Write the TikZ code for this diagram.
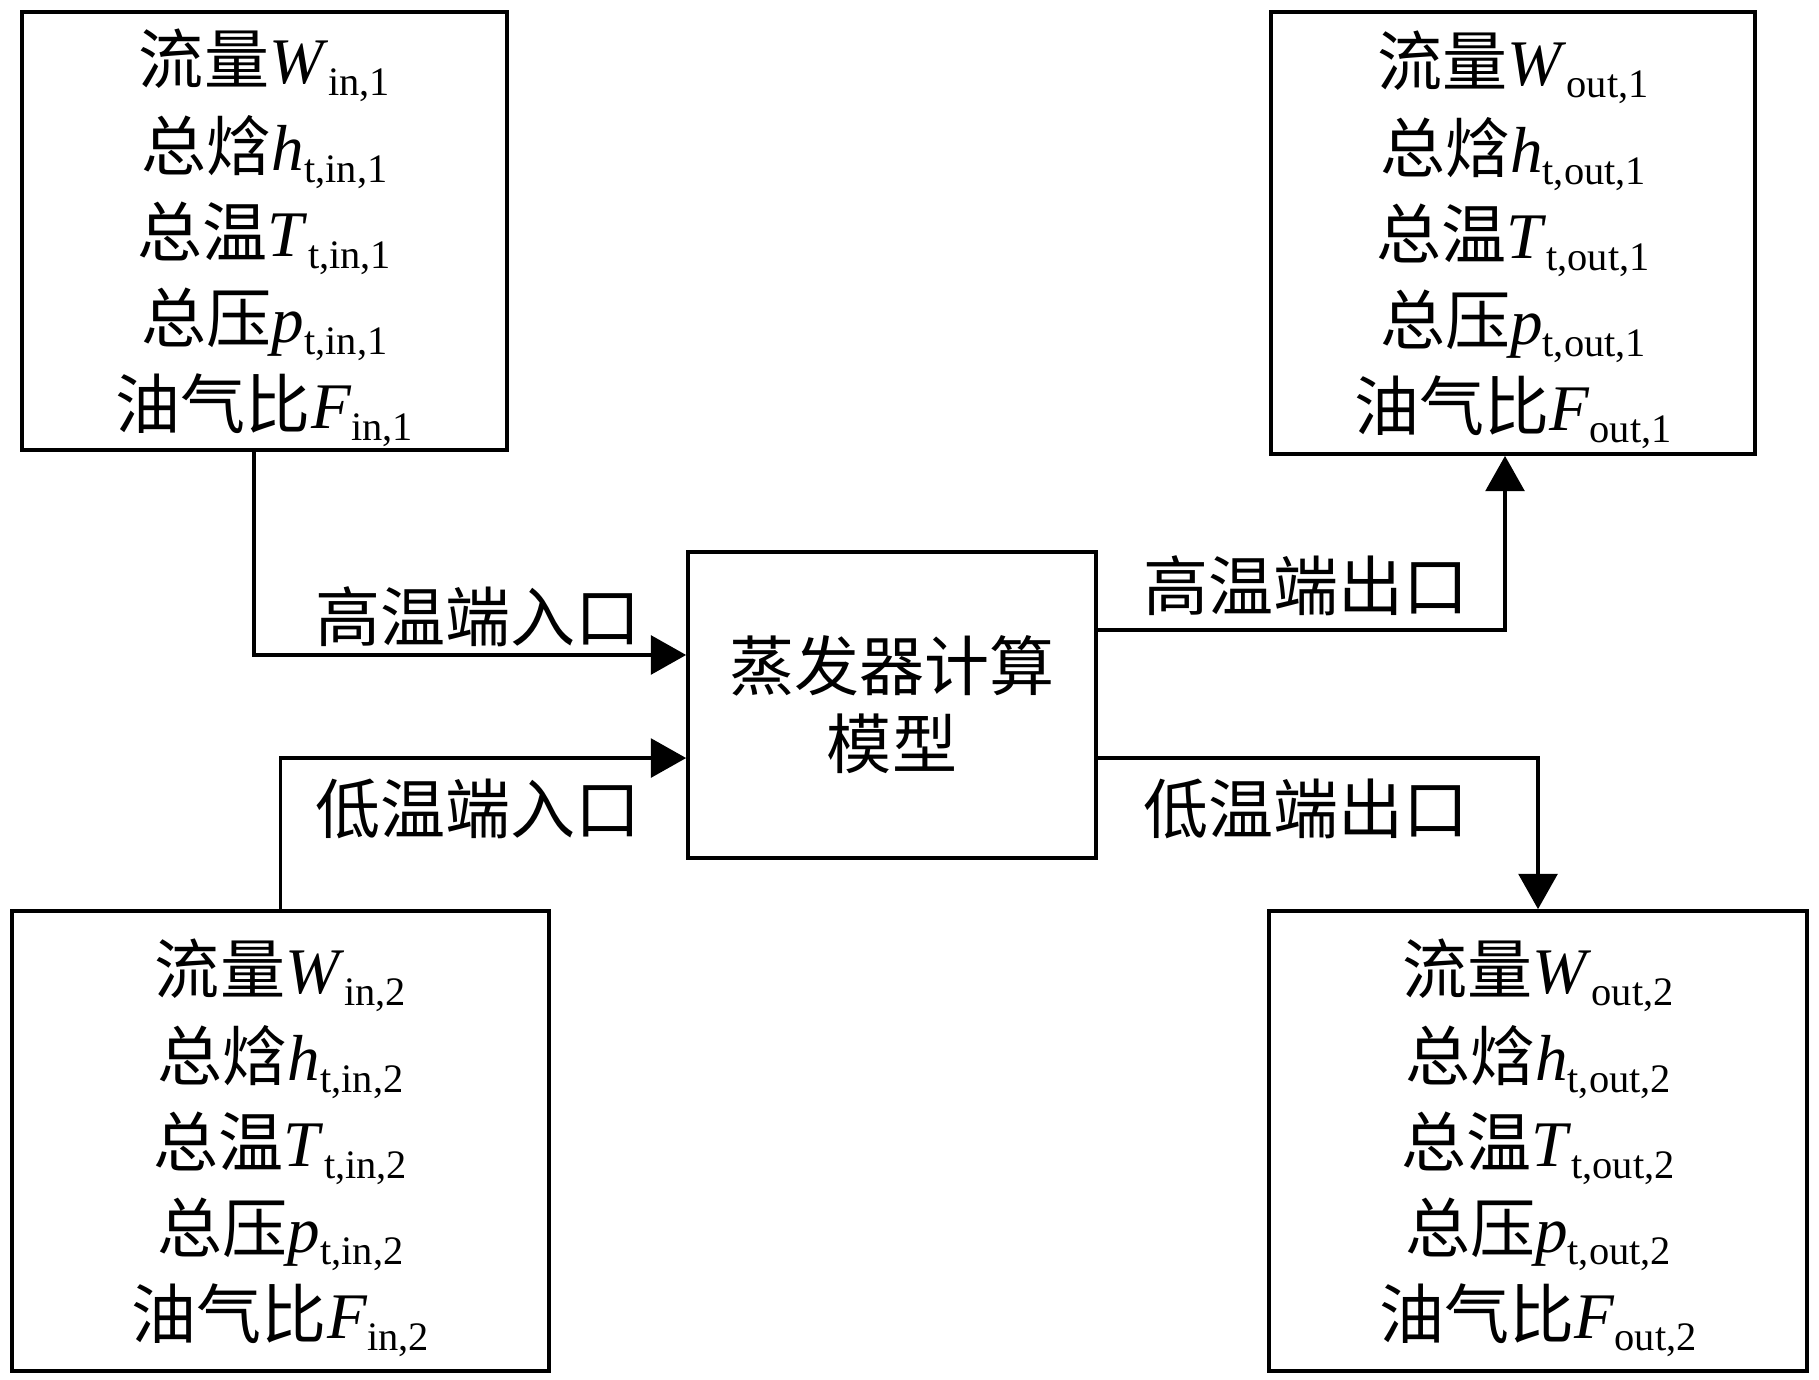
\documentclass[tikz,border=0pt]{standalone}
\usepackage{fontspec}
\setmainfont{Liberation Serif}
\newfontfamily\cjk{Noto Sans CJK SC}
\usetikzlibrary{
positioning,
arrows.meta,
}
\tikzset{
every node/.style={align=center, font=\fontsize{18.5}{24.5}\selectfont},
databox/.style={rectangle, draw, line width=1pt, inner sep=0pt},
model/.style={rectangle, draw, line width=1pt, minimum width=4.08cm, minimum height=3.06cm,
  font=\fontsize{18.5}{22.2}\selectfont},
portname/.style={inner sep=0pt},
flow/.style={->, line width=1pt},
>={Triangle[length=10pt,width=11pt]},
}
\newcommand{\zh}[1]{{\cjk #1}}
\newcommand{\vsub}[1]{\raisebox{-3.4pt}{\fontsize{11.5}{11.5}\selectfont #1}}
\newcommand{\statelist}[1]{%
  \rule{0pt}{19.5pt}\zh{流量}\textit{W}\vsub{#1}\\
  \zh{总焓}\textit{h}\vsub{t,#1}\\
  \zh{总温}\textit{T}\vsub{t,#1}\\
  \zh{总压}\textit{p}\vsub{t,#1}\\
  \zh{油气比}\textit{F}\vsub{#1}}

\begin{document}
\begin{tikzpicture}[x=0.01cm, y=-0.01cm]
\useasboundingbox (0,0) rectangle (1819,1379);
% boxes
\node (in1) [databox, minimum width=4.85cm, minimum height=4.38cm] at (264.5,231) {\statelist{in,1}};
\node (out1) [databox, minimum width=4.84cm, minimum height=4.42cm] at (1513,233) {\statelist{out,1}};
\node (model) [model] at (892,705) {\zh{蒸发器计算}\\\zh{模型}};
\node (in2) [databox, minimum width=5.37cm, minimum height=4.60cm] at (280.5,1141) {\statelist{in,2}};
\node (out2) [databox, minimum width=5.38cm, minimum height=4.60cm] at (1538,1141) {\statelist{out,2}};
% port labels
\node (hotin) [portname, anchor=east] at (641,617) {\zh{高温端入口}};
\node (coldin) [portname, anchor=east] at (641,809) {\zh{低温端入口}};
\node (hotout) [portname, anchor=west] at (1143,586) {\zh{高温端出口}};
\node (coldout) [portname, anchor=west] at (1143,809) {\zh{低温端出口}};
% flows
\draw[flow] ([xshift=-0.105cm]in1.south) |- ([yshift=0.5cm]model.west);
\draw[flow] (in2.north) |- ([yshift=-0.53cm]model.west);
\draw[flow] ([yshift=0.75cm]model.east) -| ([xshift=-0.08cm]out1.south);
\draw[flow] ([yshift=-0.53cm]model.east) -| (out2.north);
\end{tikzpicture}
\end{document}
